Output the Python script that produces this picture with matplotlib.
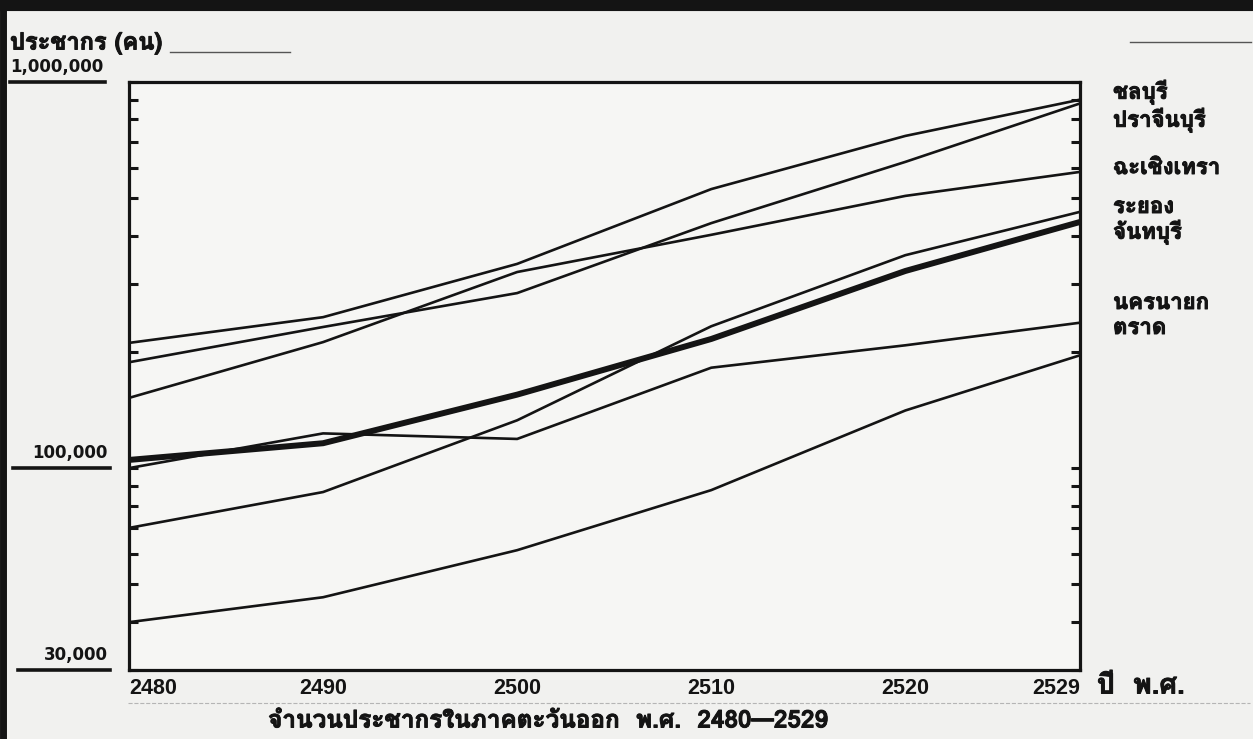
import matplotlib
matplotlib.use("Agg")
import matplotlib.pyplot as plt
from matplotlib import font_manager, transforms, patheffects
from matplotlib.ft2font import FT2Font
from matplotlib.lines import Line2D
from matplotlib.ticker import LogLocator, NullFormatter

# data (population in persons)
years = [2480, 2490, 2500, 2510, 2520, 2529]
chonburi = [211000, 246000, 338000, 528000, 725000, 900000]
prachinburi = [188000, 232000, 284000, 431000, 621000, 880000]
chachoengsao = [152000, 212000, 322000, 402000, 507000, 585000]
rayong = [70000, 86700, 133000, 233000, 356000, 461000]
chanthaburi = [105000, 116000, 155000, 216000, 324000, 434000]
nakhonnayok = [100000, 123000, 119000, 182000, 208000, 238000]
trat = [39900, 46300, 61300, 87700, 141000, 196000]

province_names = ["ชลบุรี", "ปราจีนบุรี", "ฉะเชิงเทรา", "ระยอง", "จันทบุรี", "นครนายก", "ตราด"]
y_label_values = [1000000, 100000, 30000]
y_label_texts = ["1,000,000", "100,000", "30,000"]
year_labels = [str(y) for y in years]


def find_thai_font():
    # first installed family that has Thai glyphs (Loma, Garuda, ...)
    for f in font_manager.fontManager.ttflist:
        try:
            if 0x0E0A in FT2Font(f.fname).get_charmap() and f.name != "Unifont":
                return f.name
        except Exception:
            continue
    return "DejaVu Sans"


thai_family = find_thai_font()
plt.rcParams["font.family"] = [thai_family, "DejaVu Sans"]

W, H = 1253, 739
ink = "#141414"
paper = "#f1f1ef"
heavy = [patheffects.withStroke(linewidth=0.7, foreground=ink)]

fig = plt.figure(figsize=(W / 100, H / 100), dpi=100, facecolor=paper)
ax = fig.add_axes([129 / W, 1 - 670 / H, (1080 - 129) / W, (670 - 82) / H])
ax.set_facecolor("#f6f6f4")

series = [chonburi, prachinburi, chachoengsao, rayong, chanthaburi, nakhonnayok, trat]
for name, vals in zip(province_names, series):
    lw = 4.3 if name == "จันทบุรี" else 1.9
    ax.plot(years, vals, color=ink, lw=lw, solid_capstyle="butt", solid_joinstyle="round")

ax.set_yscale("log")
ax.set_ylim(30000, 1000000)
ax.set_xlim(2480, 2529)
for s in ax.spines.values():
    s.set_linewidth(2.3)
    s.set_color(ink)

ax.yaxis.set_major_locator(LogLocator(base=10, subs=(1.0,)))
ax.yaxis.set_minor_locator(LogLocator(base=10, subs=(2, 3, 4, 5, 6, 7, 8, 9)))
ax.yaxis.set_major_formatter(NullFormatter())
ax.yaxis.set_minor_formatter(NullFormatter())
ax.tick_params(axis="y", which="both", direction="in", left=True, right=True,
               length=6.5, width=2.2, color=ink)

ax.set_xticks(years)
ax.set_xticklabels(year_labels, fontfamily="Liberation Sans", fontweight="bold", fontsize=15.5)
ax.tick_params(axis="x", length=0, pad=6, colors=ink)
labels = ax.get_xticklabels()
labels[0].set_ha("left")
labels[-1].set_ha("right")

# y value labels outside the axes, with underline
trans = transforms.blended_transform_factory(fig.transFigure, ax.transData)
label_x = [(10, 105, 103), (13, 110, 108), (18, 110, 108)]
for val, txt, (x0, x1, xr) in zip(y_label_values, y_label_texts, label_x):
    fig.add_artist(Line2D([x0 / W, x1 / W], [val, val], transform=trans, lw=2.6, color=ink))
    t = transforms.offset_copy(trans, fig=fig, x=0, y=6, units="dots")
    fig.text(xr / W, val, txt, transform=t, ha="right", va="bottom",
             fontfamily="DejaVu Sans", fontweight="bold", fontsize=12, color=ink)

# province names on the right
name_y = [92, 120, 168, 207, 232, 303, 328]
for name, yp in zip(province_names, name_y):
    fig.text(1113 / W, 1 - yp / H, name, ha="left", va="center",
             fontsize=16, fontweight="bold", color=ink, path_effects=heavy)

fig.text(10 / W, 1 - 43 / H, "ประชากร (คน)", ha="left", va="center",
         fontsize=17, fontweight="bold", color=ink, path_effects=heavy)
fig.text(1097 / W, 1 - 686 / H, "ปี  พ.ศ.", ha="left", va="center",
         fontsize=20, fontweight="bold", color=ink, path_effects=heavy)
fig.text(548 / W, 1 - 721 / H, "จำนวนประชากรในภาคตะวันออก  พ.ศ.  2480—2529", ha="center",
         va="center", fontsize=17.5, fontweight="bold", color=ink, path_effects=heavy)

# page frame and faint scan lines
fig.add_artist(Line2D([0, 1], [1 - 5 / H, 1 - 5 / H], lw=8, color=ink))
fig.add_artist(Line2D([3 / W, 3 / W], [0, 1], lw=5, color=ink))
fig.add_artist(Line2D([170 / W, 290 / W], [1 - 52 / H] * 2, lw=1.0, color="#555555"))
fig.add_artist(Line2D([1130 / W, 1 - 2 / W], [1 - 42 / H] * 2, lw=1.0, color="#555555"))
fig.add_artist(Line2D([128 / W, 1250 / W], [1 - 703 / H] * 2, lw=0.8, color="#b5b5b5", ls="--"))

fig.savefig("out.png", dpi=100, facecolor=paper)
